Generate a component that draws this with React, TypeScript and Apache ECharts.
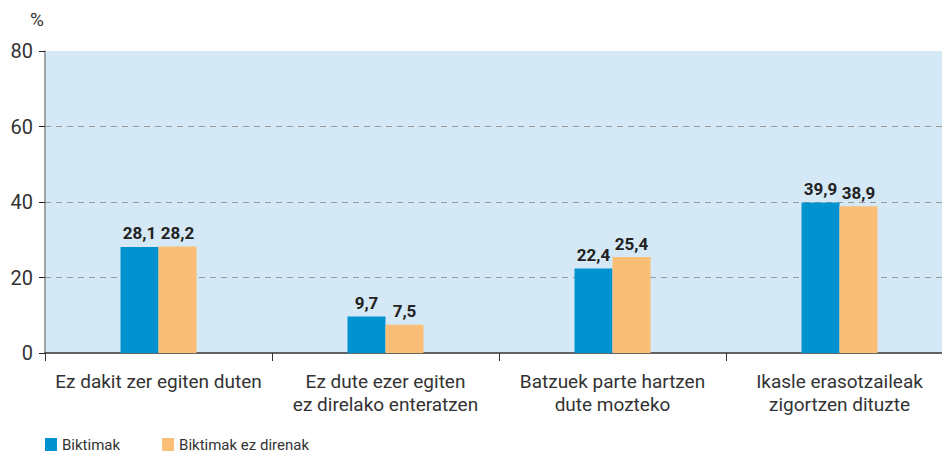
import React, { useEffect, useRef } from "react";
import * as echarts from "echarts";

const categories = [
  "Ez dakit zer egiten duten",
  "Ez dute ezer egiten\nez direlako enteratzen",
  "Batzuek parte hartzen\ndute mozteko",
  "Ikasle erasotzaileak\nzigortzen dituzte",
];
const seriesNames = ["Biktimak", "Biktimak ez direnak"];
const biktimak = [28.1, 9.7, 22.4, 39.9];
const ezBiktimak = [28.2, 7.5, 25.4, 38.9];
const yTicks = { min: 0, max: 80, interval: 20 };

const LABEL_FONT = "Roboto, 'Noto Sans', sans-serif";
const TEXT_FONT = "Roboto, 'Noto Sans', sans-serif";

export default function App() {
  const ref = useRef<HTMLDivElement>(null);
  useEffect(() => {
    if (!ref.current) return;
    const chart = echarts.init(ref.current, undefined, { renderer: "svg" });
    const label = {
      show: true,
      position: "top",
      distance: 5,
      fontFamily: LABEL_FONT,
      fontWeight: "bold",
      fontSize: 17,
      color: "#222",
      formatter: (p: any) => String(p.value).replace(".", ","),
    };
    chart.setOption({
      animation: false,
      grid: {
        left: 45,
        top: 51,
        width: 908,
        height: 302,
        show: true,
        backgroundColor: "#D4E8F5",
        borderWidth: 0,
      },
      graphic: [
        {
          type: "text",
          left: 30,
          top: 10,
          style: { text: "%", fontFamily: TEXT_FONT, fontSize: 19, fill: "#333" },
        },
      ],
      legend: {
        left: 45,
        top: 437,
        padding: 0,
        itemWidth: 12,
        itemHeight: 13,
        itemGap: 42,
        icon: "rect",
        textStyle: { fontFamily: TEXT_FONT, fontSize: 15, color: "#333" },
        data: seriesNames,
      },
      xAxis: {
        type: "category",
        data: categories,
        axisLine: { lineStyle: { color: "#333", width: 1.5 } },
        axisTick: { show: true, length: 8, lineStyle: { color: "#333" } },
        axisLabel: {
          fontFamily: TEXT_FONT,
          fontSize: 19,
          color: "#333",
          lineHeight: 23,
          margin: 17,
          interval: 0,
        },
      },
      yAxis: {
        type: "value",
        min: yTicks.min,
        max: yTicks.max,
        interval: yTicks.interval,
        axisLine: { show: true, lineStyle: { color: "#888", width: 1.5 } },
        axisTick: { show: true, length: 6, lineStyle: { color: "#222" } },
        axisLabel: { fontFamily: TEXT_FONT, fontSize: 20, color: "#333", margin: 12 },
        splitLine: {
          show: true,
          showMinLine: false,
          showMaxLine: false,
          lineStyle: { color: "#9a9a9a", type: [6, 5], width: 1 },
        },
      },
      series: [
        {
          name: seriesNames[0],
          type: "bar",
          data: biktimak,
          barWidth: 38,
          barGap: "0%",
          itemStyle: { color: "#0093D0" },
          label,
        },
        {
          name: seriesNames[1],
          type: "bar",
          data: ezBiktimak,
          barWidth: 38,
          barGap: "0%",
          itemStyle: { color: "#FBBE76" },
          label,
        },
      ],
    });
    return () => chart.dispose();
  }, []);
  return (
    <div
      style={{
        position: "fixed",
        left: 0,
        top: 0,
        width: 942,
        height: 454,
        overflow: "hidden",
        background: "#fff",
      }}
    >
      <div ref={ref} style={{ width: 970, height: 454 }} />
    </div>
  );
}
